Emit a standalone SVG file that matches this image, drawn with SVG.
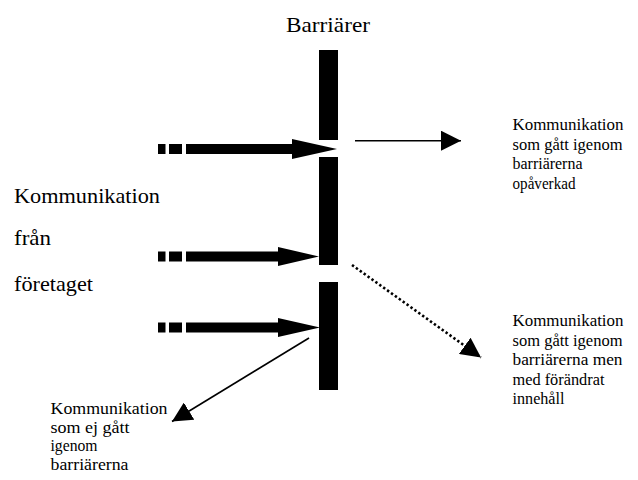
<svg xmlns="http://www.w3.org/2000/svg" width="638" height="480" viewBox="0 0 638 480" font-family="'Liberation Serif', 'Times New Roman', serif">
  <style>
    text { font-family: "Liberation Serif", "Times New Roman", serif; fill: #000; }
    .big { font-size: 21px; }
    .small { font-size: 16px; }
    .bar, .fat { fill: #000; }
    .thin { stroke: #000; stroke-width: 1.6; fill: none; }
    .dotted { stroke: #000; stroke-width: 2.6; fill: none; stroke-dasharray: 2.4 2.4; }
  </style>
  <defs>
    <marker id="head" markerUnits="userSpaceOnUse" markerWidth="20" markerHeight="20" refX="20" refY="10" orient="auto" viewBox="0 0 20 20">
      <path d="M0,0 L20,10 L0,20 Z" fill="#000"/>
    </marker>
  </defs>

  <rect width="638" height="480" fill="#fff"/>

  <!-- title -->
  <g id="title">
    <text class="big" x="286" y="32" textLength="84" lengthAdjust="spacingAndGlyphs">Barriärer</text>
  </g>

  <!-- barrier wall in three pieces -->
  <g id="barrier">
    <rect class="bar" x="319" y="50" width="19" height="90"/>
    <rect class="bar" x="319" y="157" width="19" height="108"/>
    <rect class="bar" x="319" y="282" width="19" height="108"/>
  </g>

  <!-- source label -->
  <g id="source">
    <text class="big" x="14" y="203" textLength="146" lengthAdjust="spacingAndGlyphs">Kommunikation</text>
    <text class="big" x="14" y="245" textLength="37" lengthAdjust="spacingAndGlyphs">från</text>
    <text class="big" x="14" y="291" textLength="79" lengthAdjust="spacingAndGlyphs">företaget</text>
  </g>

  <!-- outcome labels -->
  <g id="passed">
    <text class="small" x="512.5" y="130" textLength="111" lengthAdjust="spacingAndGlyphs">Kommunikation</text>
    <text class="small" x="512.5" y="149.5" textLength="110" lengthAdjust="spacingAndGlyphs">som gått igenom</text>
    <text class="small" x="512.5" y="169" textLength="70" lengthAdjust="spacingAndGlyphs">barriärerna</text>
    <text class="small" x="512.5" y="188.5" textLength="63" lengthAdjust="spacingAndGlyphs">opåverkad</text>
  </g>
  <g id="changed">
    <text class="small" x="512.5" y="326" textLength="111" lengthAdjust="spacingAndGlyphs">Kommunikation</text>
    <text class="small" x="512.5" y="345.5" textLength="110" lengthAdjust="spacingAndGlyphs">som gått igenom</text>
    <text class="small" x="512.5" y="365" textLength="110" lengthAdjust="spacingAndGlyphs">barriärerna men</text>
    <text class="small" x="512.5" y="384.5" textLength="92" lengthAdjust="spacingAndGlyphs">med förändrat</text>
    <text class="small" x="512.5" y="404" textLength="52" lengthAdjust="spacingAndGlyphs">innehåll</text>
  </g>
  <g id="blocked">
    <text class="small" x="50.5" y="414" textLength="117" lengthAdjust="spacingAndGlyphs">Kommunikation</text>
    <text class="small" x="50.5" y="432.5" textLength="79" lengthAdjust="spacingAndGlyphs">som ej gått</text>
    <text class="small" x="50.5" y="451" textLength="47" lengthAdjust="spacingAndGlyphs">igenom</text>
    <text class="small" x="50.5" y="469.5" textLength="78" lengthAdjust="spacingAndGlyphs">barriärerna</text>
  </g>

  <!-- connectors -->
  <g id="connectors">
    <!-- incoming fat arrows -->
    <g class="fat">
      <rect x="158" y="144" width="7.5" height="10"/>
      <rect x="169" y="144" width="13" height="10"/>
      <rect x="186" y="144" width="107" height="10"/>
      <polygon points="292,139 337,149 292,159"/>

      <rect x="158" y="251.5" width="7.5" height="10"/>
      <rect x="169" y="251.5" width="13" height="10"/>
      <rect x="186" y="251.5" width="93" height="10"/>
      <polygon points="278,247 319,256.5 278,266"/>

      <rect x="158" y="322.5" width="7.5" height="10"/>
      <rect x="169" y="322.5" width="13" height="10"/>
      <rect x="186" y="322.5" width="93" height="10"/>
      <polygon points="278,318 320,327.5 278,337"/>
    </g>
    <!-- outgoing arrows -->
    <line class="thin" x1="355" y1="140.7" x2="461" y2="140.7" marker-end="url(#head)"/>
    <line class="dotted" x1="352" y1="265" x2="481" y2="357.5" marker-end="url(#head)"/>
    <line class="thin" x1="309" y1="338" x2="172" y2="421.5" marker-end="url(#head)"/>
  </g>
</svg>
